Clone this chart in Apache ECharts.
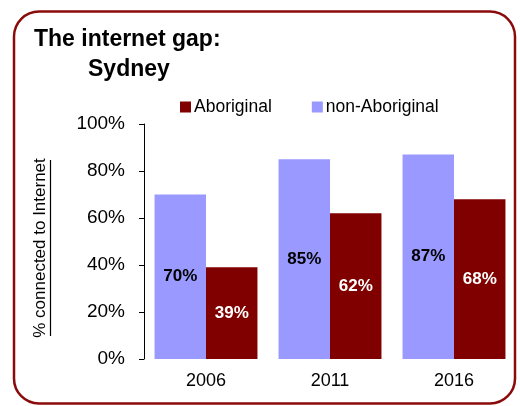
<!DOCTYPE html>
<html>
<head>
<meta charset="utf-8">
<script src="https://cdn.jsdelivr.net/npm/echarts@6/dist/echarts.min.js"></script>
<style>
  html, body { margin: 0; padding: 0; background: #fff; }
  #chart { width: 520px; height: 406px; }
</style>
</head>
<body>
<div id="chart"></div>
<script>
// ---- data ----
const categories = ['2006', '2011', '2016'];
const nonAboriginal = [70, 85, 87];
const aboriginal = [39, 62, 68];
const yTicks = [0, 20, 40, 60, 80, 100];
const titleLine1 = 'The internet gap:';
const titleLine2 = 'Sydney';
const yAxisName = '% connected to Internet';

const FONT = '"Liberation Sans", Arial, sans-serif';
const chart = echarts.init(document.getElementById('chart'), null, { renderer: 'canvas' });

chart.setOption({
  backgroundColor: '#ffffff',
  animation: false,
  title: [
    { text: titleLine1, left: 34, top: 28, padding: 0,
      textStyle: { fontFamily: FONT, fontSize: 23, fontWeight: 'bold', color: '#000' } },
    { text: titleLine2, left: 88, top: 58, padding: 0,
      textStyle: { fontFamily: FONT, fontSize: 23, fontWeight: 'bold', color: '#000' } }
  ],
  legend: {
    data: ['Aboriginal', 'non-Aboriginal'],
    left: 180, top: 98, padding: 0,
    icon: 'rect', itemWidth: 11, itemHeight: 11, itemGap: 40,
    textStyle: { fontFamily: FONT, fontSize: 17.5, color: '#000', padding: [0, 0, 0, -2] }
  },
  grid: { left: 144, right: 4, top: 124, bottom: 47, containLabel: false },
  xAxis: {
    type: 'category',
    data: categories,
    axisLine: { show: false },
    axisTick: { show: false },
    axisLabel: { fontFamily: FONT, fontSize: 18, color: '#000', margin: 13 }
  },
  yAxis: {
    type: 'value',
    min: yTicks[0], max: yTicks[yTicks.length - 1], interval: yTicks[1] - yTicks[0],
    axisLine: { show: true, lineStyle: { color: '#000', width: 1 } },
    axisTick: { show: true, length: 5, lineStyle: { color: '#000' } },
    splitLine: { show: false },
    axisLabel: { fontFamily: FONT, fontSize: 19, color: '#000', margin: 19,
      formatter: v => v + '%' }
  },
  series: [
    {
      name: 'non-Aboriginal', type: 'bar', data: nonAboriginal,
      barGap: '0%', barCategoryGap: '17%',
      itemStyle: { color: '#9999FF' },
      label: { show: true, position: 'inside', formatter: p => p.value + '%',
        fontFamily: FONT, fontSize: 17, fontWeight: 'bold', color: '#000' }
    },
    {
      name: 'Aboriginal', type: 'bar', data: aboriginal,
      barGap: '0%', barCategoryGap: '17%',
      itemStyle: { color: '#800000' },
      label: { show: true, position: 'inside', formatter: p => p.value + '%',
        fontFamily: FONT, fontSize: 17, fontWeight: 'bold', color: '#fff' }
    }
  ],
  graphic: [
    { type: 'rect', silent: true, z: -1,
      shape: { x: 14, y: 11.5, width: 501, height: 392, r: 25 },
      style: { fill: 'none', stroke: '#8B0A0A', lineWidth: 2.5 } },
    { type: 'text', x: 40, y: 248, rotation: Math.PI / 2,
      style: { text: yAxisName, font: '17px ' + FONT, fill: '#000',
        align: 'center', verticalAlign: 'middle' } },
    { type: 'line', shape: { x1: 50.5, y1: 160, x2: 50.5, y2: 336 },
      style: { stroke: '#000', lineWidth: 1.2 } }
  ]
});
</script>
</body>
</html>
